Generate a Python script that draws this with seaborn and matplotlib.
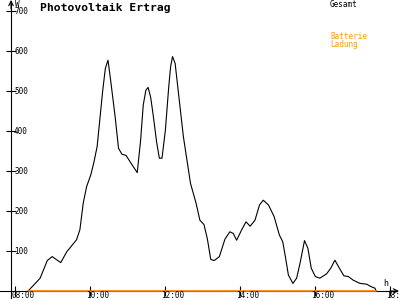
import matplotlib
matplotlib.use('Agg')
import matplotlib.pyplot as plt
import seaborn as sns
import pandas as pd
from matplotlib.transforms import offset_copy

# ---- data (hours as decimal, power in W) ----
times = [8.35, 8.67, 8.86, 8.99, 9.22, 9.38, 9.64, 9.73, 9.82, 9.91,
         10.02, 10.10, 10.19, 10.27, 10.34, 10.41, 10.48, 10.55, 10.67, 10.76,
         10.85, 10.96, 11.05, 11.11, 11.26, 11.35, 11.42, 11.49, 11.55, 11.62,
         11.69, 11.78, 11.85, 11.92, 12.01, 12.10, 12.15, 12.20, 12.27, 12.36,
         12.49, 12.68, 12.83, 12.93, 13.04, 13.13, 13.22, 13.31, 13.45, 13.60,
         13.73, 13.82, 13.91, 14.04, 14.16, 14.27, 14.40, 14.52, 14.62, 14.76,
         14.91, 15.05, 15.14, 15.21, 15.29, 15.41, 15.51, 15.60, 15.72, 15.81,
         15.90, 16.01, 16.13, 16.31, 16.42, 16.53, 16.65, 16.77, 16.89, 17.02,
         17.20, 17.38, 17.49, 17.60, 17.63]
gesamt = [0, 32, 76, 86, 71, 98, 128, 153, 220, 261,
          290, 320, 361, 436, 502, 557, 577, 527, 436, 357,
          342, 339, 326, 317, 296, 377, 465, 502, 509, 483,
          436, 370, 332, 332, 402, 511, 561, 586, 569, 494,
          386, 269, 219, 177, 166, 130, 79, 76, 86, 130,
          148, 144, 127, 152, 173, 162, 177, 215, 227, 215,
          186, 140, 123, 86, 40, 19, 32, 69, 126, 107,
          57, 36, 32, 43, 57, 77, 57, 38, 36, 27,
          19, 17, 11, 7, 0]
ladung = [0] * len(times)

x_ticks = [8, 10, 12, 14, 16, 18]
x_tick_labels = ['08:00', '10:00', '12:00', '14:00', '16:00', '18:00']
y_ticks = [100, 200, 300, 400, 500, 600, 700]
y_tick_labels = ['100', '200', '300', '400', '500', '600', '700']

title = 'Photovoltaik Ertrag'
legend_gesamt = 'Gesamt'
legend_batt = ['Batterie', 'Ladung']

# ---- style ----
sns.set_theme(style='white')
plt.rcParams['font.family'] = ['DejaVu Sans Mono', 'DejaVu Sans']

W, H = 400, 300
fig = plt.figure(figsize=(4, 3), dpi=100)
ax = fig.add_axes([0, 0, 1, 1])

PX_PER_H = 37.5
PX_PER_W = 0.4
X0_PX, Y0_PX = 15, 291           # pixel of 08:00 and of 0 W
def px2x(px):
    return 8 + (px - X0_PX) / PX_PER_H
def px2y(py):
    return (Y0_PX - py) / PX_PER_W

ax.set_xlim(px2x(0), px2x(W))
ax.set_ylim(px2y(H), px2y(0))

df = pd.DataFrame({'t': times, 'Gesamt': gesamt, 'Ladung': ladung})
sns.lineplot(data=df, x='t', y='Gesamt', color='black', lw=0.8, ax=ax, zorder=2)
sns.lineplot(data=df, x='t', y='Ladung', color='#ff8000', lw=1.2, ax=ax, zorder=3)
ax.set_xlabel('')
ax.set_ylabel('')
ax.grid(False)

# axes lines
axis_x = px2x(11)
for s in ['top', 'right']:
    ax.spines[s].set_visible(False)
ax.spines['bottom'].set_position(('data', 0))
ax.spines['left'].set_position(('data', axis_x))
ax.spines['bottom'].set_bounds(px2x(0), px2x(397))
ax.spines['left'].set_bounds(px2y(298), px2y(1))
for s in ['bottom', 'left']:
    ax.spines[s].set_color('black')
    ax.spines[s].set_linewidth(0.8)
    ax.spines[s].set_zorder(2.5)

ax.set_xticks(x_ticks)
ax.set_yticks(y_ticks)
ax.tick_params(axis='both', which='both', bottom=True, left=True,
               labelbottom=False, labelleft=False,
               direction='inout', length=7, width=0.8, color='black')

# arrow heads
ax.annotate('', xy=(px2x(399), 0), xytext=(px2x(390), 0),
            arrowprops=dict(arrowstyle='->', lw=0.8, color='black',
                            mutation_scale=8, shrinkA=0, shrinkB=0))
ax.annotate('', xy=(axis_x, px2y(0)), xytext=(axis_x, px2y(9)),
            arrowprops=dict(arrowstyle='->', lw=0.8, color='black',
                            mutation_scale=8, shrinkA=0, shrinkB=0))

# tick labels
fs_small = 5.5
for v, lab in zip(y_ticks, y_tick_labels):
    tr = offset_copy(ax.transData, fig=fig, x=3.0, y=0, units='dots')
    ax.text(axis_x, v, lab, transform=tr, ha='left', va='center',
            fontsize=fs_small, color='black')
for t, lab in zip(x_ticks, x_tick_labels):
    tr = offset_copy(ax.transData, fig=fig, x=-4.0, y=-7.5, units='dots')
    ax.text(t, 0, lab, transform=tr, ha='left', va='baseline',
            fontsize=fs_small, color='black', clip_on=False)

# unit labels
ax.text(15 / W, 1 - 0 / H, 'W', transform=ax.transAxes, ha='left', va='top',
        fontsize=fs_small, color='black')
ax.text(383 / W, 1 - 279 / H, 'h', transform=ax.transAxes, ha='left', va='top',
        fontsize=6, color='black')

# title and legend
ax.text(40 / W, 1 - 3 / H, title, transform=ax.transAxes, ha='left', va='top',
        fontsize=8.2, fontweight='bold', color='black')
ax.text(330 / W, 1 - 0 / H, legend_gesamt, transform=ax.transAxes,
        ha='left', va='top', fontsize=fs_small, color='black')
ax.text(330 / W, 1 - 32 / H, legend_batt[0], transform=ax.transAxes,
        ha='left', va='top', fontsize=fs_small, color='#ff9900')
ax.text(330 / W, 1 - 40 / H, legend_batt[1], transform=ax.transAxes,
        ha='left', va='top', fontsize=fs_small, color='#ff9900')

fig.savefig('out.png', dpi=100, facecolor='white')
